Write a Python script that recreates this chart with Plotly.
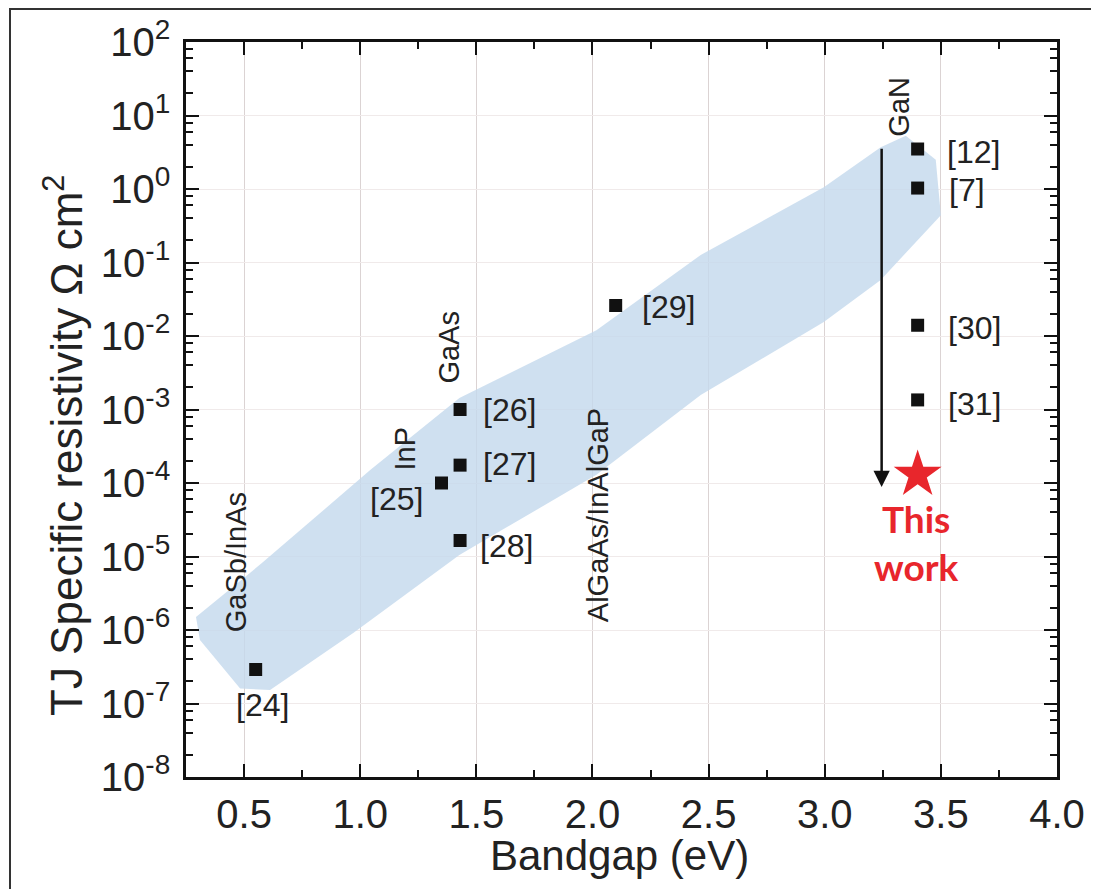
import math
import plotly.graph_objects as go

# ---------------- data ----------------
refs = ["[24]", "[25]", "[26]", "[27]", "[28]", "[29]", "[12]", "[7]", "[30]", "[31]"]
bandgap_ev = [0.55, 1.35, 1.43, 1.43, 1.43, 2.10, 3.40, 3.40, 3.40, 3.40]
resistivity = [2.9e-7, 1.0e-4, 1.0e-3, 1.75e-4, 1.65e-5, 2.6e-2, 3.5, 1.03, 1.4e-2, 1.35e-3]

this_work_bandgap = [3.40]
this_work_resistivity = [1.3e-4]
this_work_label = "This<br>work"

material_labels = ["GaSb/InAs", "InP", "GaAs", "AlGaAs/InAlGaP", "GaN"]
material_anchor = ["[24]", "[25]", "[26]", "[29]", "[12]"]

# shaded trend band (outline, going round)
band_bandgap = [0.293, 0.578, 1.043, 1.427, 2.017, 2.466, 2.996, 3.241, 3.349,
                3.478, 3.500,
                3.241, 2.996, 2.466, 2.017, 1.427, 0.970, 0.612, 0.483, 0.310]
band_resistivity = [1.5e-6, 8.2e-6, 1.5e-4, 1.43e-3, 1.2e-2, 0.126, 1.06, 3.7, 5.3,
                    2.5, 0.44,
                    0.058, 0.0155, 1.57e-3, 1.29e-4, 1.05e-5, 9.1e-7, 1.53e-7, 1.6e-7, 7.3e-7]

arrow_bandgap = 3.245
arrow_from = 3.7
arrow_to = 8.8e-5

x_tickvals = [0.5, 1.0, 1.5, 2.0, 2.5, 3.0, 3.5, 4.0]
x_ticktext = ["0.5", "1.0", "1.5", "2.0", "2.5", "3.0", "3.5", "4.0"]
x_minorvals = [0.75, 1.25, 1.75, 2.25, 2.75, 3.25, 3.75]
y_exponents = [-8, -7, -6, -5, -4, -3, -2, -1, 0, 1, 2]
y_minor_mantissas = [2, 4, 6, 8]

x_title = "Bandgap (eV)"
y_title = "TJ Specific resistivity Ω cm<sup>2</sup>"

# ---------------- styles ----------------
# the page body has an 8px default margin; the figure is laid out so the
# drawing lands at the intended window pixels
OFF = 8
W, H = 1099 - OFF, 889 - OFF
# intended plot area in window pixels: left 186, right 1057, top 42, bottom 777
ML, MR, MT, MB = 186 - OFF, W - (1057 - OFF), 42 - OFF, H - (777 - OFF)
TEXT = "#222222"
RED = "#e8262c"
FONT = "Liberation Sans, Arial, sans-serif"

# label offsets in pixels relative to their points (dx, dy; dy up positive)
ref_offsets = {"[24]": (7, -35), "[25]": (-45, -16), "[26]": (49, 0), "[27]": (49, 1),
               "[28]": (46, -5), "[29]": (53, -1), "[12]": (56, -3), "[7]": (49, -2),
               "[30]": (57, -3), "[31]": (57, -4)}
material_offsets = {"GaSb/InAs": (-20, 107), "InP": (-36, 35), "GaAs": (-12, 62),
                    "AlGaAs/InAlGaP": (-18, -210), "GaN": (-19, 42)}

y_tickvals = [10.0 ** e for e in y_exponents]
y_ticktext = ["10<sup>%d</sup>" % e for e in y_exponents]
y_minorvals = [m * 10.0 ** e for e in y_exponents[:-1] for m in y_minor_mantissas]

pw, ph = W - ML - MR, H - MT - MB


def px_to_paper_x(px):
    return (px - OFF - ML) / pw


def px_to_paper_y(py):
    return (H - MB - (py - OFF)) / ph


fig = go.Figure()

fig.add_trace(go.Scatter(
    x=band_bandgap + [band_bandgap[0]],
    y=band_resistivity + [band_resistivity[0]],
    mode="lines", fill="toself",
    fillcolor="rgba(196,217,237,0.82)", line=dict(width=0),
    hoverinfo="skip", showlegend=False))

fig.add_trace(go.Scatter(
    x=bandgap_ev, y=resistivity, mode="markers",
    marker=dict(symbol="square", size=13, color="#111111"),
    text=refs, showlegend=False))

fig.add_trace(go.Scatter(
    x=this_work_bandgap, y=this_work_resistivity, mode="markers",
    marker=dict(symbol="star", size=36, color=RED, line=dict(width=0)),
    showlegend=False))

annotations = []
pt = {r: (bandgap_ev[i], resistivity[i]) for i, r in enumerate(refs)}
for r in refs:
    dx, dy = ref_offsets[r]
    annotations.append(dict(x=pt[r][0], y=math.log10(pt[r][1]), xref="x", yref="y",
                            text=r, showarrow=False, xshift=dx, yshift=dy,
                            font=dict(family=FONT, size=32, color=TEXT)))
for lab, anc in zip(material_labels, material_anchor):
    dx, dy = material_offsets[lab]
    annotations.append(dict(x=pt[anc][0], y=math.log10(pt[anc][1]), xref="x", yref="y",
                            text=lab, showarrow=False, xshift=dx, yshift=dy, textangle=-90,
                            font=dict(family=FONT, size=29, color=TEXT)))
annotations.append(dict(x=this_work_bandgap[0], y=math.log10(this_work_resistivity[0]),
                        xref="x", yref="y", text="<b>" + this_work_label + "</b>",
                        showarrow=False, xshift=-2, yshift=-68,
                        font=dict(family="Lato, Open Sans, sans-serif", size=37, color=RED)))
# arrow
annotations.append(dict(x=arrow_bandgap, y=math.log10(arrow_to), xref="x", yref="y",
                        ax=arrow_bandgap, ay=math.log10(arrow_from), axref="x", ayref="y",
                        text="", showarrow=True, arrowhead=2, arrowsize=1.3,
                        arrowwidth=2.5, arrowcolor="#111111", standoff=0))
# axis titles
annotations.append(dict(x=px_to_paper_x(619), y=px_to_paper_y(855),
                        xref="paper", yref="paper", text=x_title, showarrow=False,
                        xanchor="center", yanchor="middle",
                        font=dict(family=FONT, size=42, color=TEXT)))
annotations.append(dict(x=px_to_paper_x(63), y=px_to_paper_y(446),
                        xref="paper", yref="paper", text=y_title, showarrow=False,
                        textangle=-90, xanchor="center", yanchor="middle",
                        font=dict(family=FONT, size=44, color=TEXT)))

frame = dict(type="rect", xref="paper", yref="paper",
             x0=px_to_paper_x(10), x1=px_to_paper_x(1093),
             y0=px_to_paper_y(905), y1=px_to_paper_y(OFF + 1),
             line=dict(color="#333333", width=2), layer="below")

axis_common = dict(showline=True, linecolor="#111111", linewidth=2.5, mirror="ticks",
                   ticks="inside", ticklen=13, tickwidth=2, tickcolor="#111111",
                   tickfont=dict(family=FONT, size=40, color=TEXT),
                   zeroline=False, showgrid=True, gridwidth=1)

fig.update_layout(
    width=W, height=H,
    margin=dict(l=ML, r=MR, t=MT, b=MB, pad=0, autoexpand=False),
    paper_bgcolor="white", plot_bgcolor="white",
    showlegend=False,
    annotations=annotations,
    shapes=[frame],
    xaxis=dict(range=[0.25, 4.0], tickmode="array", tickvals=x_tickvals, ticktext=x_ticktext,
               gridcolor="#dbd3d3", automargin=False,
               minor=dict(tickmode="array", tickvals=x_minorvals, ticks="inside",
                          ticklen=7, tickwidth=2, tickcolor="#111111", showgrid=False),
               **axis_common),
    yaxis=dict(type="log", range=[-8, 2], tickmode="array", tickvals=y_tickvals,
               ticktext=y_ticktext, gridcolor="#f0eaea", ticklabelstandoff=5,
               automargin=False,
               minor=dict(tickmode="array", tickvals=y_minorvals, ticks="inside",
                          ticklen=7, tickwidth=2, tickcolor="#111111", showgrid=False),
               **axis_common),
)

fig.write_html("out.html")
